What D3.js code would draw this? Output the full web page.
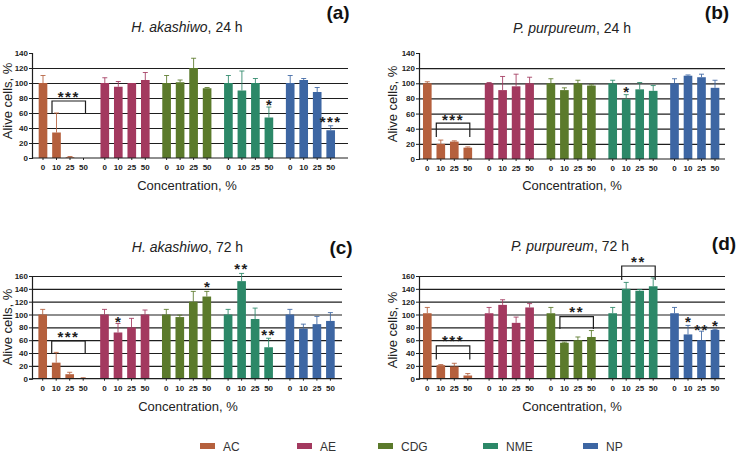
<!DOCTYPE html>
<html><head><meta charset="utf-8">
<script src="https://cdn.jsdelivr.net/npm/d3@7/dist/d3.min.js"></script>
<style>
html,body{margin:0;padding:0;background:#fff;}
svg{display:block;font-family:"Liberation Sans",Arial,sans-serif;}
</style></head>
<body><svg id="c" width="740" height="453"></svg>
<script>
// ---------- data ----------
const treatments = ["AC","AE","CDG","NME","NP"];
const concentrations = ["0","10","25","50"];
const colors = ["#b5603d","#a3395f","#5b7a2b","#2c8868","#3d66a3"];

// panel (a) H. akashiwo 24 h : mean per treatment x concentration, and mean+SD
const meanA = [[100,34,1,0],[100,95,100,104],[100,101,120,93],[100,90,100,54],[100,104,88,37]];
const errA  = [[110,60,2,0],[107,102,100,114],[110,104,133,94],[110,116,106,68],[110,106,94,43]];
// panel (b) P. purpureum 24 h
const meanB = [[100,20,23,15],[100,91,96,100],[100,91,100,97],[100,79,92,90],[100,110,108,94]];
const errB  = [[102,25,24,16],[101,109,112,108],[106,94,104,98],[104,85,101,97],[106,111,112,104]];
// panel (c) H. akashiwo 72 h
const meanC = [[100,25,7,1],[100,72,80,100],[100,96,120,128],[100,152,93,49],[100,78,85,90]];
const errC  = [[108,41,10,1.5],[108,86,94,107],[108,99,136,136],[108,164,110,63],[108,85,97,103]];
// panel (d) P. purpureum 72 h
const meanD = [[102,21,19,5],[102,115,87,111],[102,56,60,65],[102,140,137,144],[102,69,60,76]];
const errD  = [[111,22,24,8],[111,123,96,117],[111,57,65,75],[111,150,139,157],[111,83,74,77]];

const yTicks24 = [0,20,40,60,80,100,120,140];
const yTicks72 = [0,20,40,60,80,100,120,140,160];
const grid24 = [20,40,60,80,100,120];
const grid72 = [20,40,60,80,100,120,140,160];

// significance marks: [treatment index, from conc, to conc, bracket top, bracket ends, label, label level]
const sigA = [[0,1,3,76,60,"***",85],[3,3,3,null,null,"*",75],[4,3,3,null,null,"***",52]];
const sigB = [[0,1,3,47.5,29,"***",56],[3,1,1,null,null,"*",92]];
const sigC = [[0,1,3,59,39.5,"***",70],[1,1,1,null,null,"*",93],[2,3,3,null,null,"*",147],[3,1,1,null,null,"**",175],[3,3,3,null,null,"**",72]];
const sigD = [[0,1,3,51,30,"***",63],[2,1,3,96.6,77.4,"**",108],[3,1,3,175.6,153.8,"**",186],[4,1,1,null,null,"*",93],[4,2,2,null,null,"**",81],[4,3,3,null,null,"*",87]];

const titles = [["H. akashiwo",", 24 h"],["P. purpureum",", 24 h"],["H. akashiwo",", 72 h"],["P. purpureum",", 72 h"]];
const tags = ["(a)","(b)","(c)","(d)"];
const yLabel = "Alive cells, %";
const xLabel = "Concentration, %";

// ---------- layout ----------
const panels = [
  {mean:meanA, err:errA, sig:sigA, ticks:yTicks24, grid:grid24, max:140, ox:32, y0:158, yTop:53, right:348, first:43,
   tx:187, ty:32, gx:338, gy:19, lx:187, ly:190, ylx:12, yly:101},
  {mean:meanB, err:errB, sig:sigB, ticks:yTicks24, grid:grid24, max:140, ox:419, y0:159, yTop:53, right:725, first:427.3,
   tx:572, ty:33, gx:717, gy:19, lx:572, ly:190, ylx:397, yly:104},
  {mean:meanC, err:errC, sig:sigC, ticks:yTicks72, grid:grid72, max:160, ox:32, y0:378.7, yTop:276, right:342, first:42.7,
   tx:187.5, ty:252, gx:341, gy:254, lx:188, ly:411, ylx:12, yly:327},
  {mean:meanD, err:errD, sig:sigD, ticks:yTicks72, grid:grid72, max:160, ox:419, y0:378.7, yTop:276, right:725, first:427.3,
   tx:570, ty:251, gx:724, gy:250, lx:572, ly:411, ylx:397, yly:330}
];

const svg = d3.select("#c");
const groupStep = 61.8, barStep = 13.5;

panels.forEach((p, pi) => {
  const g = svg.append("g");
  const y = d3.scaleLinear().domain([0, p.max]).range([p.y0, p.yTop]);
  const start = p.first - barStep/2;
  const xg = d3.scaleBand().domain(treatments)
    .range([start, start + 4*groupStep + 4*barStep]).paddingInner(1 - 4*barStep/groupStep).paddingOuter(0);
  const xi = d3.scaleBand().domain(concentrations).range([0, xg.bandwidth()]).paddingInner(0.36).paddingOuter(0.18);

  // gridlines
  g.append("g").attr("transform", `translate(${p.ox},0)`)
    .call(d3.axisRight(y).tickValues(p.grid).tickSize(p.right - p.ox).tickFormat(""))
    .call(s => s.select(".domain").remove())
    .call(s => s.selectAll("line").attr("stroke", "#1e1e1e").attr("stroke-width", 1.2));

  // bars + error bars
  treatments.forEach((t, ti) => {
    const gg = g.append("g").attr("transform", `translate(${xg(t)},0)`);
    const rows = concentrations.map((c, ci) => ({c, v: p.mean[ti][ci], e: p.err[ti][ci]}));
    gg.selectAll("line.eb").data(rows).join("line").attr("class","eb")
      .attr("x1", d => xi(d.c) + xi.bandwidth()/2).attr("x2", d => xi(d.c) + xi.bandwidth()/2)
      .attr("y1", d => y(d.v)).attr("y2", d => y(d.e))
      .attr("stroke", colors[ti]).attr("stroke-width", 1).attr("opacity", 0.85);
    gg.selectAll("line.cap").data(rows.filter(d => d.e > d.v)).join("line").attr("class","cap")
      .attr("x1", d => xi(d.c) + xi.bandwidth()/2 - 2.5).attr("x2", d => xi(d.c) + xi.bandwidth()/2 + 2.5)
      .attr("y1", d => y(d.e)).attr("y2", d => y(d.e))
      .attr("stroke", colors[ti]).attr("stroke-width", 1).attr("opacity", 0.85);
    gg.selectAll("rect").data(rows).join("rect")
      .attr("x", d => xi(d.c)).attr("width", xi.bandwidth())
      .attr("y", d => y(d.v)).attr("height", d => p.y0 - y(d.v))
      .attr("fill", colors[ti]);
    // x axis per group
    gg.append("g").attr("transform", `translate(0,${p.y0})`)
      .call(d3.axisBottom(xi).tickSize(2).tickPadding(4.3))
      .call(s => s.select(".domain").remove())
      .call(s => s.selectAll("text").attr("font-size", 8).attr("font-weight", "bold")
        .attr("font-family", "Liberation Sans, Arial, sans-serif").attr("fill", "#222"))
      .call(s => s.selectAll("line").attr("stroke", "#222"));
  });

  // baseline
  g.append("line").attr("x1", p.ox).attr("x2", p.right).attr("y1", p.y0).attr("y2", p.y0)
    .attr("stroke", "#1e1e1e").attr("stroke-width", 1.2);

  // y axis
  g.append("g").attr("transform", `translate(${p.ox},0)`)
    .call(d3.axisLeft(y).tickValues(p.ticks).tickSize(3).tickPadding(1))
    .call(s => s.select(".domain").attr("stroke", "#1e1e1e").attr("stroke-width", 1.2))
    .call(s => s.selectAll("line").attr("stroke", "#1e1e1e"))
    .call(s => s.selectAll("text").attr("font-size", 8).attr("font-weight", "bold")
      .attr("font-family", "Liberation Sans, Arial, sans-serif").attr("fill", "#222"));

  // significance
  p.sig.forEach(([ti, a, b, top, ends, lab, lev]) => {
    const cx = c => xg(treatments[ti]) + xi(concentrations[c]) + xi.bandwidth()/2;
    let mid;
    if (top !== null) {
      const xa = cx(a) - 4.5, xb = cx(b) + 2;
      g.append("path")
        .attr("d", `M${xa},${y(ends)}V${y(top)}H${xb}V${y(ends)}`)
        .attr("fill", "none").attr("stroke", "#1e1e1e").attr("stroke-width", 1.2);
      mid = (xa + xb) / 2;
    } else {
      mid = cx(a);
    }
    g.append("text").attr("x", mid).attr("y", y(lev) + 8)
      .attr("text-anchor", "middle").attr("font-size", 15).attr("font-weight", "bold")
      .attr("letter-spacing", lab.length > 1 ? 1.5 : 0)
      .attr("fill", "#1e1e1e").text(lab);
  });

  // titles
  const tt = g.append("text").attr("x", p.tx).attr("y", p.ty).attr("text-anchor", "middle")
    .attr("font-size", 14).attr("fill", "#222");
  tt.append("tspan").attr("font-style", "italic").text(titles[pi][0]);
  tt.append("tspan").text(titles[pi][1]);
  g.append("text").attr("x", p.gx).attr("y", p.gy).attr("text-anchor", "middle")
    .attr("font-size", 19).attr("font-weight", "bold").attr("fill", "#111").text(tags[pi]);
  g.append("text").attr("x", p.lx).attr("y", p.ly).attr("text-anchor", "middle")
    .attr("font-size", 13).attr("fill", "#222").text(xLabel);
  g.append("text").attr("transform", `translate(${p.ylx},${p.yly}) rotate(-90)`)
    .attr("text-anchor", "middle").attr("font-size", 13).attr("fill", "#222").text(yLabel);
});

// legend
const legendX = [200, 297, 378, 483, 583];
const lg = svg.append("g").selectAll("g").data(treatments).join("g")
  .attr("transform", (d, i) => `translate(${legendX[i]},446)`);
lg.append("rect").attr("x", 0).attr("y", -3).attr("width", 15).attr("height", 6)
  .attr("fill", (d, i) => colors[i]);
lg.append("text").attr("x", 23).attr("y", 4.5).attr("font-size", 12).attr("fill", "#333").text(d => d);
</script>
</body></html>
